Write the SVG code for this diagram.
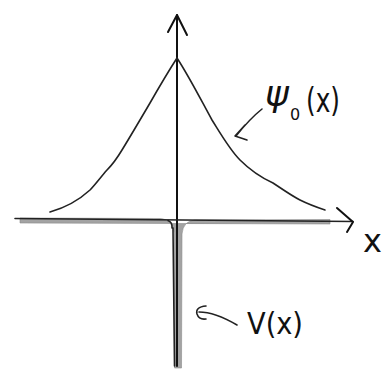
<svg xmlns="http://www.w3.org/2000/svg" width="390" height="383" viewBox="0 0 390 383">
<style>
.ink{fill:none;stroke:#111;stroke-width:2;stroke-linecap:round;stroke-linejoin:round}
.thin{fill:none;stroke:#222;stroke-width:1.6;stroke-linecap:round;stroke-linejoin:round}
.gray{fill:#a3a3a3;stroke:#8a8a8a;stroke-width:0.6}
.lbl{font-family:"DejaVu Sans","Liberation Sans",sans-serif;fill:#111}
</style>
<rect width="390" height="383" fill="#fff"/>
<g id="potential">
<path class="gray" d="M20,218 L160,218.5 Q173,219 174.5,234 L174.5,368 L181.5,368 L182,234 Q183,221 195,220 L330,219.5 L330,224 L20,223 Z"/>
<path class="thin" d="M172,228 Q172.5,222 168,220.5 M173,228 L174.5,366"/>
</g>
<g id="connectors">
<path class="ink" stroke-width="2.6" d="M177,15 L177,366"/>
<path class="ink" d="M168,32 L177,15 L187,35"/>
<path class="thin" d="M15,218.5 L353,221.5"/>
<path class="ink" d="M337,208 L353,222 L347,232"/>
<path class="thin" d="M262,109 C252,117 244,126 236,136 M245,125 L235,136 L247,140"/>
<path class="thin" d="M237,325 C225,318 212,312 199,312 M206,306 Q195,307 197,314 Q199,320 206,319"/>
</g>
<g id="psi-curve">
<path class="thin" d="M177,58 C168,72 158,89 150,103 C140,120 130,137 122,150 C116,160 112,165 107,170 C100,178 95,185 90,190 C78,201 64,208 50,212"/>
<path class="thin" d="M177,58 C190,78 202,102 212,120 C222,136 230,150 240,160 C250,170 262,178 273,183 C282,189 292,196 300,200 C308,204 316,207 325,210"/>
</g>
<g id="labels">
<text class="lbl" x="265" y="106" font-size="36" font-family="DejaVu Serif, serif" font-style="italic">ψ</text>
<text class="lbl" x="290" y="120" font-size="16">0</text>
<text class="lbl" x="306" y="112" font-size="34" textLength="34" lengthAdjust="spacingAndGlyphs">(x)</text>
<text class="lbl" x="247" y="334" font-size="31" textLength="56" lengthAdjust="spacingAndGlyphs">V(x)</text>
<text class="lbl" x="363" y="252" font-size="32">x</text>
</g>
</svg>
